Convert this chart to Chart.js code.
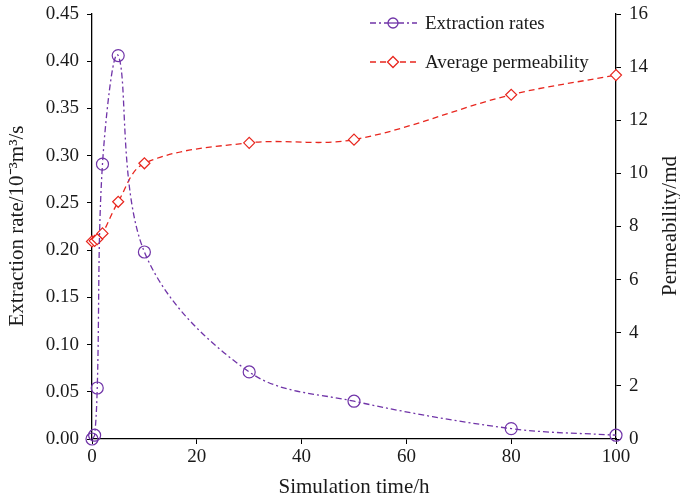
<!DOCTYPE html>
<html>
<head>
<meta charset="utf-8">
<script src="https://cdn.jsdelivr.net/npm/chart.js@4/dist/chart.umd.min.js"></script>
<style>
  html, body { margin: 0; padding: 0; background: #fff; }
  #wrap { width: 680px; height: 500px; position: relative; }
</style>
</head>
<body>
<div id="wrap"><canvas id="c"></canvas></div>
<script>
// Simulation time (h) and measured series
const timeHours = [0, 0.5, 1, 2, 5, 10, 30, 50, 80, 100];
const extractionRates = [0.000, 0.004, 0.054, 0.291, 0.406, 0.198, 0.071, 0.040, 0.011, 0.004];
const permeability = [7.44, 7.46, 7.52, 7.74, 8.93, 10.38, 11.15, 11.27, 12.96, 13.70];
const xTicks = [0, 20, 40, 60, 80, 100];
const seriesNames = ['Extraction rates', 'Average permeability'];

const PURPLE = '#7034a8';
const RED = '#e8261e';
const FONT = '"Liberation Serif", "Times New Roman", serif';

const rateData = timeHours.map((t, i) => ({ x: t, y: extractionRates[i] }));
const permData = timeHours.map((t, i) => ({ x: t, y: permeability[i] }));

// Axis titles and legend drawn by hand (right title reads bottom-to-top)
const decorations = {
  id: 'decorations',
  afterDraw(chart) {
    const { ctx, chartArea: a } = chart;
    ctx.save();
    ctx.fillStyle = '#1a1a1a';
    ctx.font = '21px ' + FONT;
    ctx.textAlign = 'center';
    ctx.textBaseline = 'middle';
    // x title
    ctx.fillText('Simulation time/h', (a.left + a.right) / 2, 487);
    // left title
    ctx.save();
    ctx.translate(17, 226);
    ctx.rotate(-Math.PI / 2);
    ctx.fillText('Extraction rate/10\u207B\u00B3m\u00B3/s', 0, 0);
    ctx.restore();
    // right title
    ctx.save();
    ctx.translate(670, 226);
    ctx.rotate(-Math.PI / 2);
    ctx.fillText('Permeability/md', 0, 0);
    ctx.restore();

    // legend
    const items = [
      { name: seriesNames[0], color: PURPLE, dash: [6, 3, 2, 3], marker: 'circle', y: 23 },
      { name: seriesNames[1], color: RED, dash: [6, 4], marker: 'diamond', y: 62 }
    ];
    ctx.font = '19px ' + FONT;
    ctx.textAlign = 'left';
    items.forEach(it => {
      ctx.strokeStyle = it.color;
      ctx.lineWidth = 1.3;
      ctx.setLineDash(it.dash);
      ctx.beginPath();
      ctx.moveTo(370, it.y);
      ctx.lineTo(417, it.y);
      ctx.stroke();
      ctx.setLineDash([]);
      const cx = 393;
      const r = it.marker === 'circle' ? 5 : 5.5;
      ctx.fillStyle = '#fff';
      ctx.beginPath();
      if (it.marker === 'circle') {
        ctx.arc(cx, it.y, r, 0, Math.PI * 2);
      } else {
        ctx.moveTo(cx, it.y - r); ctx.lineTo(cx + r, it.y);
        ctx.lineTo(cx, it.y + r); ctx.lineTo(cx - r, it.y); ctx.closePath();
      }
      ctx.fill();
      ctx.stroke();
      if (it.marker === 'circle') {
        ctx.beginPath(); ctx.moveTo(cx - r, it.y); ctx.lineTo(cx + r, it.y); ctx.stroke();
      }
      ctx.fillStyle = '#1a1a1a';
      ctx.fillText(it.name, 425, it.y + 1);
    });
    ctx.restore();
  }
};

// vertical scales: fixed width, no extra label padding above/below the plot
const fitVertical = w => s => { s.width = w; s.paddingTop = 0; s.paddingBottom = 0; };

new Chart(document.getElementById('c'), {
  type: 'line',
  data: {
    datasets: [
      {
        label: seriesNames[0],
        data: rateData,
        yAxisID: 'y',
        borderColor: PURPLE,
        borderWidth: 1.3,
        borderDash: [6, 3, 2, 3],
        tension: 0.35,
        pointStyle: 'circle',
        pointRadius: 6,
        pointBorderWidth: 1.2,
        pointBorderColor: PURPLE,
        pointBackgroundColor: 'rgba(255,255,255,0)',
        clip: false
      },
      {
        label: seriesNames[1],
        data: permData,
        yAxisID: 'y1',
        borderColor: RED,
        borderWidth: 1.3,
        borderDash: [6, 4],
        tension: 0.35,
        pointStyle: 'rectRot',
        pointRadius: 5.5,
        pointBorderWidth: 1.2,
        pointBorderColor: RED,
        pointBackgroundColor: '#fff',
        clip: false
      }
    ]
  },
  options: {
    responsive: true,
    maintainAspectRatio: false,
    animation: false,
    layout: { padding: { top: 14, left: 0, right: 0, bottom: 0 } },
    plugins: { legend: { display: false }, tooltip: { enabled: false } },
    scales: {
      x: {
        type: 'linear',
        min: 0, max: 100,
        afterBuildTicks: s => { s.ticks = xTicks.map(v => ({ value: v })); },
        afterFit: s => { s.height = 61; s.paddingLeft = 0; s.paddingRight = 0; },
        grid: { drawOnChartArea: false, tickLength: 5, color: '#000', tickColor: '#000' },
        border: { color: '#000', width: 1.3 },
        ticks: { color: '#1a1a1a', font: { family: FONT, size: 19 }, padding: 2, maxRotation: 0 }
      },
      y: {
        position: 'left',
        min: 0, max: 0.45,
        afterFit: fitVertical(92),
        grid: { drawOnChartArea: false, tickLength: 5, color: '#000', tickColor: '#000' },
        border: { color: '#000', width: 1.3 },
        ticks: { stepSize: 0.05, color: '#1a1a1a', font: { family: FONT, size: 19 }, padding: 8,
                 callback: v => Number(v).toFixed(2) }
      },
      y1: {
        position: 'right',
        min: 0, max: 16,
        afterFit: fitVertical(64),
        grid: { drawOnChartArea: false, tickLength: 5, color: '#000', tickColor: '#000' },
        border: { color: '#000', width: 1.3 },
        ticks: { stepSize: 2, color: '#1a1a1a', font: { family: FONT, size: 19 }, padding: 8 }
      }
    }
  },
  plugins: [decorations]
});
</script>
</body>
</html>
